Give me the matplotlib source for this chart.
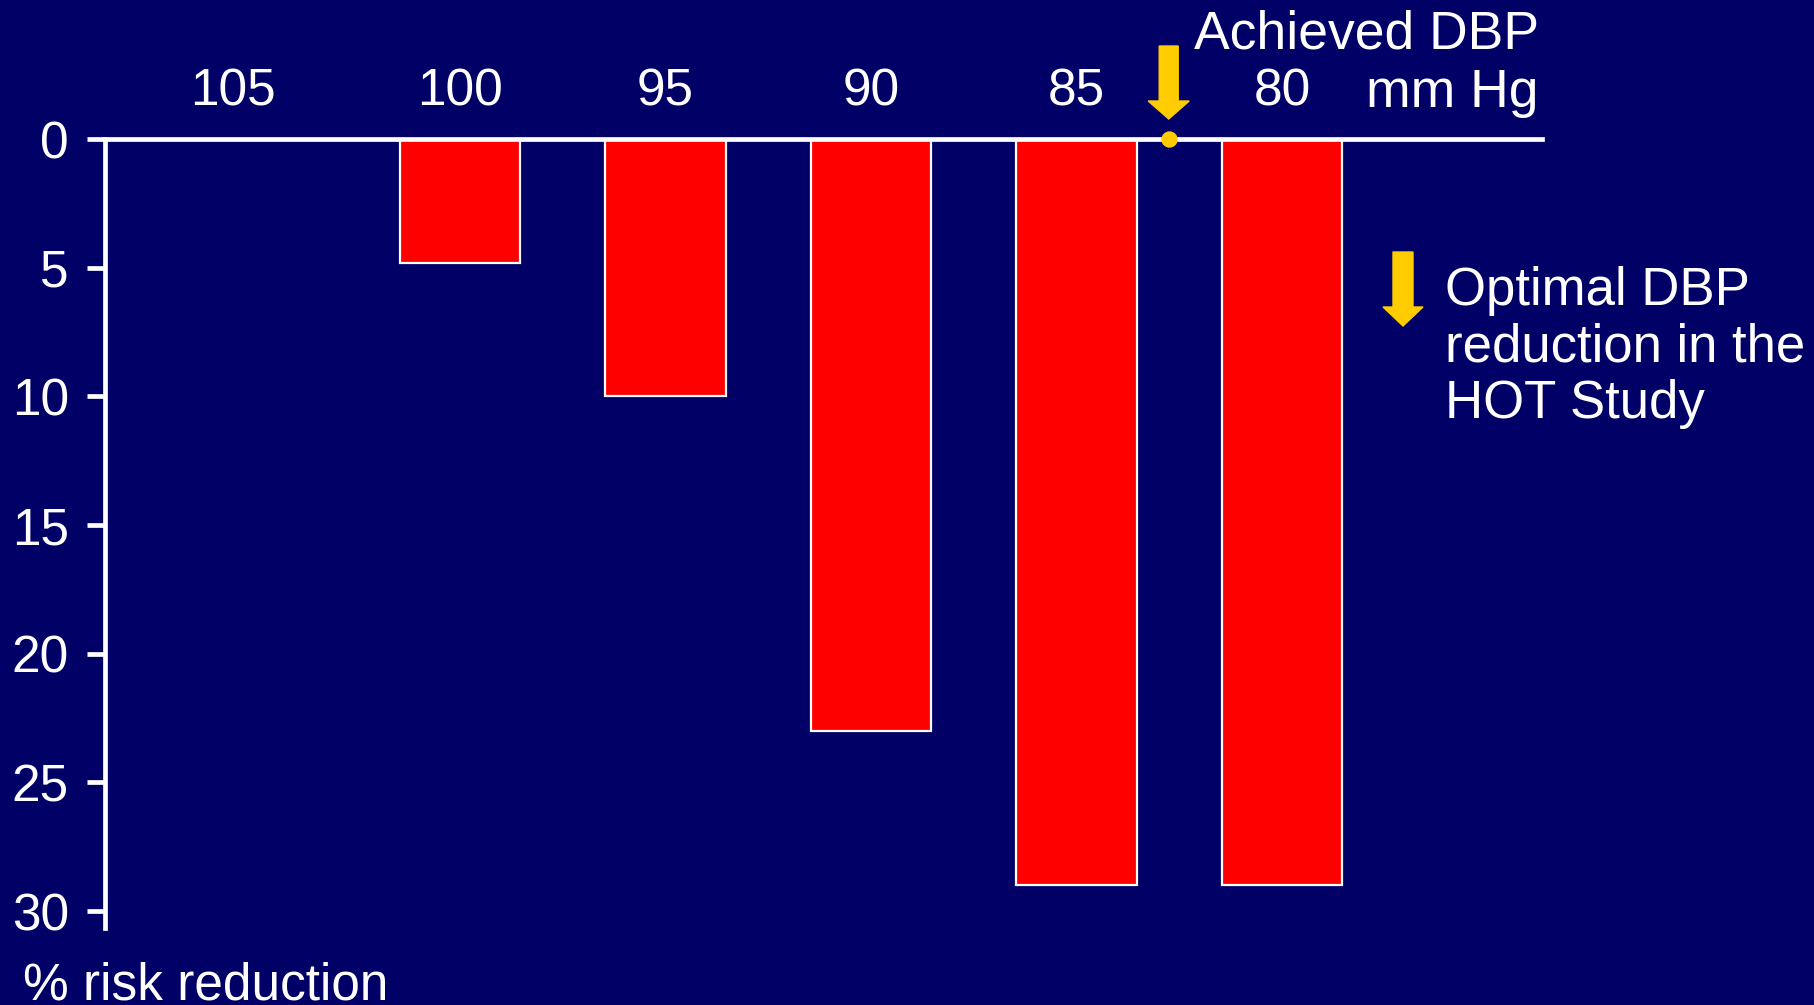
import numpy as np
import matplotlib
matplotlib.use("Agg")
import matplotlib.pyplot as plt
from matplotlib.patches import FancyArrow
import matplotlib.transforms as mtransforms

# Datos del grafico
categorias = ["105", "100", "95", "90", "85", "80"]
reduccion_riesgo = [0, 4.8, 10, 23, 29, 29]
ticks_y = [0, 5, 10, 15, 20, 25, 30]
dbp_optimo = 4.45  # posicion entre 85 y 80 mm Hg

fondo = "#000066"
amarillo = "#FFCC00"
plt.rcParams["font.family"] = ["Liberation Sans", "DejaVu Sans"]

W, H = 1815, 1005
fig = plt.figure(figsize=(W / 100, H / 100), dpi=100, facecolor=fondo)
ax = fig.add_axes([105 / W, 1 - 928 / H, (1542 - 105) / W, (928 - 139) / H])
ax.set_facecolor(fondo)

x = np.arange(len(categorias))
ax.bar(x, reduccion_riesgo, width=0.585, color="red", edgecolor="white",
       linewidth=1.6, zorder=2)

ax.set_xlim(-0.727, 6.265)
ax.set_ylim(30.66, 0)

# ejes
for lado in ["right", "bottom"]:
    ax.spines[lado].set_visible(False)
for lado in ["left", "top"]:
    ax.spines[lado].set_color("white")
    ax.spines[lado].set_linewidth(3.4)
    ax.spines[lado].set_zorder(3)

ax.xaxis.tick_top()
ax.set_xticks(x)
ax.set_xticklabels(categorias)
ax.tick_params(axis="x", length=0, pad=16, labelsize=37, labelcolor="white")
ax.set_yticks(ticks_y)
ax.tick_params(axis="y", direction="out", length=13, width=3.4, color="white",
               pad=13, labelsize=37, labelcolor="white")

# la etiqueta 105 esta un poco desplazada a la izquierda
lab = ax.get_xticklabels()[0]
lab.set_transform(lab.get_transform() +
                  mtransforms.ScaledTranslation(-0.21, 0, fig.dpi_scale_trans))

# punto y flecha del DBP alcanzado
ax.plot([dbp_optimo], [0], "o", color=amarillo, markersize=10.8, clip_on=False,
        zorder=5)
fig.patches.append(FancyArrow(11.687, 10.05 - 0.46, 0, -(1.19 - 0.46), width=0.19,
                              head_width=0.41, head_length=0.18,
                              length_includes_head=True, color=amarillo,
                              transform=fig.dpi_scale_trans))
fig.patches.append(FancyArrow(14.03, 10.05 - 2.52, 0, -(3.26 - 2.52), width=0.20,
                              head_width=0.40, head_length=0.19,
                              length_includes_head=True, color=amarillo,
                              transform=fig.dpi_scale_trans))

fig.text(1539 / W, 1 - 107 / H, "Achieved DBP\nmm Hg", ha="right", va="baseline",
         multialignment="right", fontsize=38.5, color="white", linespacing=1.23)
fig.text(1445 / W, 1 - 418 / H, "Optimal DBP\nreduction in the\nHOT Study",
         ha="left", va="baseline", fontsize=38, color="white", linespacing=1.17)
fig.text(23 / W, 1 - 999 / H, "% risk reduction", ha="left", va="baseline",
         fontsize=37, color="white")

fig.savefig("out.png", dpi=100, facecolor=fondo)
